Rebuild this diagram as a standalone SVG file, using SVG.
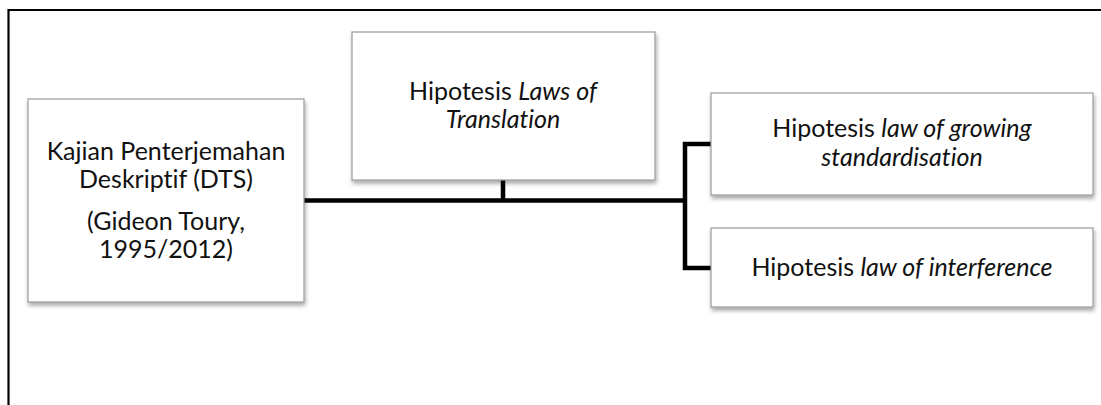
<svg xmlns="http://www.w3.org/2000/svg" width="1101" height="405" viewBox="0 0 1101 405">
<style>
.box{fill:#fff;stroke:#9a9a9a;stroke-width:1.2;filter:url(#sh)}
.t{font-family:Lato,"Open Sans",sans-serif;font-size:25px;fill:#111;text-anchor:middle;font-variant-ligatures:none;font-feature-settings:"liga" 0,"dlig" 0}
.i{font-style:italic}
.c{fill:none;stroke:#000;stroke-width:4.5;stroke-linejoin:miter}
</style>
<defs>
<filter id="sh" x="-10%" y="-10%" width="130%" height="140%">
<feDropShadow dx="1" dy="3" stdDeviation="2" flood-color="#000" flood-opacity="0.35"/>
</filter>
</defs>
<path d="M8.5 412 V10 H1101" fill="none" stroke="#000" stroke-width="2.2"/>
<g id="connectors">
<path class="c" d="M304 200.5 H685 M503 180 V200.5 M711 144 H685 V268 H711"/>
</g>
<g id="dts">
<rect class="box" x="28" y="99" width="276" height="203"/>
<text class="t" x="166" y="160">Kajian Penterjemahan</text>
<text class="t" x="166" y="188">Deskriptif (DTS)</text>
<text class="t" x="166" y="230">(Gideon Toury,</text>
<text class="t" x="166" y="258">1995/2012)</text>
</g>
<g id="laws">
<rect class="box" x="352" y="32" width="303" height="148"/>
<text class="t" x="503" y="100">Hipotesis <tspan class="i">Laws of</tspan></text>
<text class="t i" x="503" y="128">Translation</text>
</g>
<g id="growing">
<rect class="box" x="711" y="93" width="382" height="102"/>
<text class="t" x="902" y="137">Hipotesis <tspan class="i">law of growing</tspan></text>
<text class="t i" x="902" y="166">standardisation</text>
</g>
<g id="interference">
<rect class="box" x="711" y="228" width="382" height="79"/>
<text class="t" x="902" y="276">Hipotesis <tspan class="i">law of interference</tspan></text>
</g>
</svg>
